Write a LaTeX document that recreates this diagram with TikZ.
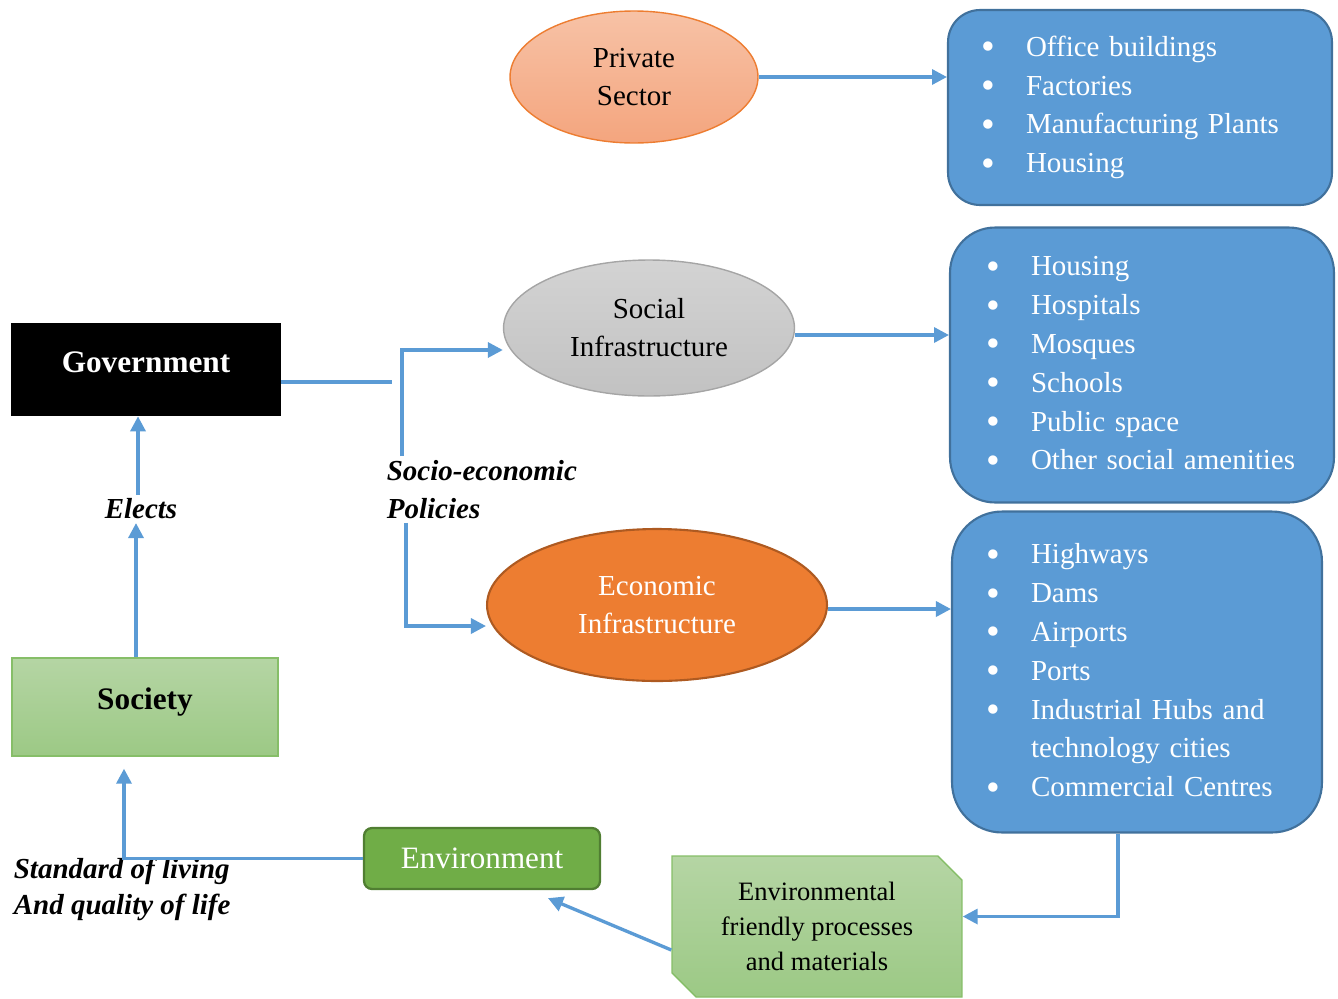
\documentclass[tikz,border=0pt]{standalone}
\usepackage{fontspec}
\setmainfont{Liberation Serif}
\usetikzlibrary{positioning, arrows.meta, shapes.geometric, shapes.misc}

\definecolor{flowblue}{HTML}{5B9BD5}
\definecolor{boxblue}{HTML}{5B9BD5}
\definecolor{boxedge}{HTML}{41719C}
\definecolor{peachtop}{HTML}{F7C2A6}
\definecolor{peachbot}{HTML}{F4A57E}
\definecolor{peachedge}{HTML}{ED7D31}
\definecolor{greytop}{HTML}{D3D3D3}
\definecolor{greybot}{HTML}{C2C2C2}
\definecolor{greyedge}{HTML}{A5A5A5}
\definecolor{econfill}{HTML}{ED7D31}
\definecolor{econedge}{HTML}{AE5A21}
\definecolor{leaftop}{HTML}{B5D5A4}
\definecolor{leafbot}{HTML}{9CC985}
\definecolor{leafedge}{HTML}{86BE68}
\definecolor{envfill}{HTML}{70AD47}
\definecolor{envedge}{HTML}{507E32}

\newcommand{\bul}[1]{\makebox[0.9cm][l]{\raisebox{-2pt}{\scalebox{1.35}{\textbullet}}}#1}

\begin{document}
\begin{tikzpicture}[x=0.02cm, y=-0.02cm,
  base/.style={inner sep=0pt, align=center,
    font=\fontsize{16.5}{21.6}\selectfont},
  sectorbox/.style={base, ellipse, line width=0.8pt},
  listbox/.style={draw=boxedge, fill=boxblue, line width=1.2pt,
    text=white, align=left, inner ysep=0pt,
    font=\fontsize{16.5}{22.1}\selectfont},
  headbox/.style={base, rectangle, font=\fontsize{17.8}{20}\selectfont\bfseries},
  lbl/.style={inner sep=2pt, align=left,
    font=\fontsize{16.5}{22.1}\selectfont\bfseries\itshape},
  flow/.style={-{Triangle[length=0.3cm, width=0.3cm]},
    line width=1.9pt, draw=flowblue},
  flowline/.style={line width=1.9pt, draw=flowblue},
]

\useasboundingbox (0,0) rectangle (1338,998);

% ---- sectors (ellipses) ----
\node[sectorbox, draw=peachedge, top color=peachtop, bottom color=peachbot,
  minimum width=4.96cm, minimum height=2.64cm] (private) at (634,77)
  {Private\\Sector};
\node[sectorbox, draw=greyedge, top color=greytop, bottom color=greybot,
  minimum width=5.82cm, minimum height=2.72cm] (social) at (649,328)
  {Social\\Infrastructure};
\node[sectorbox, draw=econedge, fill=econfill, text=white, line width=1.2pt,
  minimum width=6.8cm, minimum height=3.04cm] (econ) at (657,605)
  {Economic\\Infrastructure};

% ---- lists ----
\node[listbox, rounded corners=0.64cm, minimum width=7.68cm,
  minimum height=3.9cm, text width=6.36cm, inner xsep=0.66cm]
  (firms) at (1140,107.5)
  {\bul{Office buildings}\\\bul{Factories}\\\bul{Manufacturing Plants}\\\bul{Housing}};
\node[listbox, rounded corners=0.9cm, minimum width=7.68cm,
  minimum height=5.5cm, text width=6.24cm, inner xsep=0.72cm]
  (amenities) at (1142,365)
  {\bul{Housing}\\\bul{Hospitals}\\\bul{Mosques}\\\bul{Schools}\\\bul{Public space}\\\bul{Other social amenities}};
\node[listbox, rounded corners=1cm, minimum width=7.4cm,
  minimum height=6.42cm, text width=6.04cm, inner xsep=0.68cm]
  (utilities) at (1137,672)
  {\bul{Highways}\\\bul{Dams}\\\bul{Airports}\\\bul{Ports}\\\bul{Industrial Hubs and}\\\hspace*{0.9cm}technology cities\\\bul{Commercial Centres}};

% ---- left column ----
\node[headbox, fill=black, text=white, minimum width=5.4cm,
  minimum height=1.86cm] (gov) at (146,369.5)
  {\raisebox{0.3cm}{Government}};
\node[headbox, draw=leafedge, line width=0.8pt, top color=leaftop,
  bottom color=leafbot, minimum width=5.32cm, minimum height=1.96cm]
  (society) at (145,707) {\raisebox{0.34cm}{Society}};
\node[base, rounded corners=0.16cm, draw=envedge, fill=envfill, text=white,
  line width=1.3pt, minimum width=4.72cm, minimum height=1.22cm,
  font=\fontsize{17.7}{20}\selectfont] (env) at (482,858.5) {Environment};
\node[base, chamfered rectangle, chamfered rectangle corners={north east, south west},
  chamfered rectangle xsep=0.24cm, chamfered rectangle ysep=0.24cm,
  draw=leafedge, line width=0.8pt, top color=leaftop, bottom color=leafbot,
  minimum width=5.8cm, minimum height=2.82cm,
  font=\fontsize{15.1}{19.9}\selectfont] (green) at (817,926.5)
  {Environmental\\friendly processes\\and materials};

% ---- labels ----
\node[lbl] (elects) at (141,509) {Elects};
\node[lbl, anchor=west] (policy) at (383,489.5) {Socio-economic\\Policies};
\node[lbl, anchor=west, font=\fontsize{16.5}{20.4}\selectfont\bfseries\itshape]
  (living) at (10,889) {Standard of living\\And quality of life};

% ---- connectors ----
\draw[flow] (private.east) -- (private.east -| firms.west);
\draw[flow] ([yshift=-0.14cm]social.east) -- ([yshift=-0.14cm]social.east -| amenities.west);
\draw[flow] ([yshift=-0.08cm]econ.east) -- ([yshift=-0.08cm]econ.east -| utilities.west);

\coordinate (split) at (392,382);
\draw[flowline] (split -| gov.east) -- (split);
\draw[flow] ([xshift=0.38cm]policy.north west) |- ([yshift=-0.44cm]social.west);
\draw[flow] ([xshift=0.46cm]policy.south west) |- ([yshift=-0.42cm]econ.west);

\draw[flow] ([xshift=-0.18cm]society.north) -- ([xshift=-0.18cm]society.north |- elects.south);
\draw[flow] ([xshift=-0.16cm]gov.south |- elects.north) -- ([xshift=-0.16cm]gov.south);

\draw[flow] (env.west) -| ([xshift=-0.42cm, yshift=-0.24cm]society.south);
\draw[flow] ([yshift=-0.47cm]green.west) -- ([xshift=1.32cm, yshift=-0.16cm]env.south);
\draw[flow] ([xshift=-0.38cm]utilities.south) |- ([yshift=0.2cm]green.east);

\end{tikzpicture}
\end{document}
